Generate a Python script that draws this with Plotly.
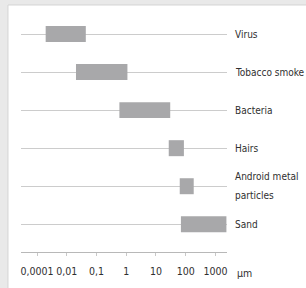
import plotly.graph_objects as go

# ---- data ----
categories = ["Virus", "Tobacco smoke", "Bacteria", "Hairs", "Android metal\nparticles", "Sand"]
# size ranges expressed in positions along the (schematic) size scale, tick index units
range_start = [0.29, 1.31, 2.77, 4.43, 4.80, 4.84]
range_end = [1.64, 3.04, 4.48, 4.94, 5.27, 6.37]
tick_labels = ["0,0001", "0,01", "0,1", "1", "10", "100", "1000"]
unit_label = "µm"

FONT = "DejaVu Sans Condensed"
TXT = "#2f2f2f"
W, H = 306, 288
L, R, T, B = 21, 79.3, 10, 36.3
pw, ph = W - L - R, H - T - B

ypos = list(range(len(categories)))
fig = go.Figure()
fig.add_trace(go.Bar(
    y=ypos,
    x=[e - s for s, e in zip(range_start, range_end)],
    base=range_start,
    orientation="h",
    width=0.42,
    marker=dict(color="#a8a8aa", line=dict(width=0)),
    hoverinfo="skip",
))

annotations = []
for i, lab in enumerate(categories):
    lines = lab.split("\n")
    n = len(lines)
    for j, ln in enumerate(lines):
        shift = (n - 1) / 2 * 19 - j * 19
        annotations.append(dict(
            x=(235 - L) / pw, xref="paper", y=i, yref="y",
            text=ln, showarrow=False, xanchor="left", yanchor="middle",
            yshift=shift, xshift=-2,
            font=dict(family=FONT, size=10, color=TXT),
        ))
annotations.append(dict(
    x=(237 - L) / pw, xref="paper", y=-(273 - (H - B)) / ph, yref="paper",
    text=unit_label, showarrow=False, xanchor="left", yanchor="middle",
    xshift=-2,
    font=dict(family=FONT, size=10.5, color=TXT),
))

shapes = [
    dict(type="rect", xref="paper", yref="paper",
         x0=(8 - L) / pw, x1=(W + 5 - L) / pw,
         y0=-(H + 5 - (H - B)) / ph, y1=(H - 5 - B) / ph,
         fillcolor="white", line=dict(color="#d4d4d4", width=1), layer="below"),
]

fig.update_layout(
    width=W, height=H,
    margin=dict(l=L, r=R, t=T, b=B, pad=0, autoexpand=False),
    paper_bgcolor="#e9e9e9",
    plot_bgcolor="rgba(0,0,0,0)",
    showlegend=False,
    annotations=annotations,
    shapes=shapes,
    xaxis=dict(
        range=[-0.54, 6.39],
        tickvals=list(range(len(tick_labels))),
        ticktext=tick_labels,
        tickangle=0,
        tickfont=dict(family=FONT, size=10.5, color=TXT),
        showgrid=False, zeroline=False,
        showline=True, linecolor="#b8b8b8", linewidth=1,
        ticks="outside", ticklen=3, tickcolor="#c8c8c8",
        ticklabelstandoff=6,
        fixedrange=True, automargin=False,
    ),
    yaxis=dict(
        range=[5.729, -0.632],
        tickvals=ypos,
        showticklabels=False,
        showgrid=True, gridcolor="#cccccc", gridwidth=1,
        zeroline=False, showline=False, ticks="",
        fixedrange=True, automargin=False,
    ),
)

fig.write_html(
    "out.html",
    config={"displayModeBar": False},
    post_script="document.body.style.margin='0';document.body.style.background='#e9e9e9';",
)
